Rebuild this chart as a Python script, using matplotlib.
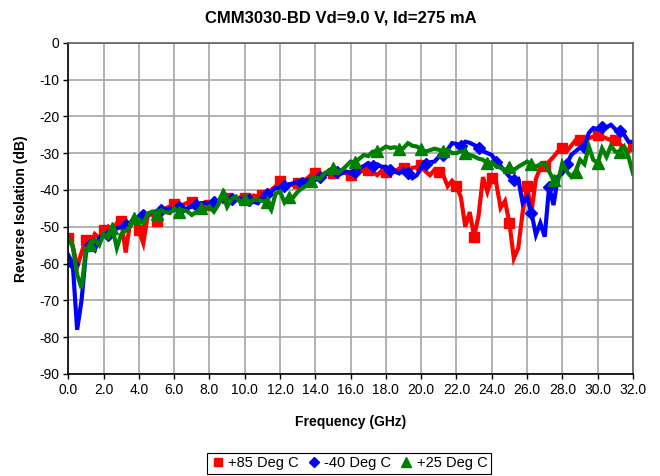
import numpy as np
import matplotlib
matplotlib.use("Agg")
import matplotlib.pyplot as plt
from matplotlib.lines import Line2D
from matplotlib.ticker import FormatStrFormatter

plt.rcParams["font.family"] = ["Liberation Sans", "DejaVu Sans"]
plt.rcParams["axes.unicode_minus"] = False

# sweep 0..32 GHz, 0.25 GHz steps
freq = np.linspace(0.0, 32.0, 129)

# +85 Deg C
s21_p85 = [
    -53, -55, -61, -57,
    -53.5, -55, -52, -53,
    -51, -50, -51.5, -49,
    -48.5, -57, -49, -47.5,
    -51, -54.5, -47, -46.5,
    -48.5, -46, -45, -44.5,
    -43.8, -45, -44, -43.5,
    -43.2, -44, -44.5, -43.8,
    -44.1, -43.5, -43, -42.5,
    -42.3, -43, -42.5, -42,
    -42.3, -42, -41.5, -41.8,
    -41.4, -41, -40, -39,
    -37.7, -39, -38.5, -38.7,
    -38.2, -37.5, -37, -36,
    -35.5, -36.5, -36, -35.3,
    -35.5, -35.8, -35, -35.5,
    -36, -35, -34.5, -35,
    -34.6, -35, -36, -34.8,
    -35, -34.5, -35, -34.2,
    -34, -35.5, -34, -33.8,
    -33.2, -35, -36, -34.5,
    -35, -36, -39, -37.5,
    -39, -42, -50, -46,
    -52.7, -47, -36.5, -40.5,
    -36.8, -38, -44.9, -43,
    -49, -58.6, -55.8, -46,
    -39, -46, -37, -34,
    -33.5, -32.3, -31, -29.5,
    -28.5, -29.5, -28, -26.5,
    -26.5, -27, -26, -25.5,
    -25, -25.5, -26, -26.5,
    -26.5, -27.5, -28.5, -29.5,
    -28,
]

# -40 Deg C
s21_m40 = [
    -57.7, -60, -78, -70,
    -57, -55, -56.3, -53,
    -52.5, -52.2, -51, -50.5,
    -50, -49.5, -49, -48,
    -47.5, -46.8, -46.5, -46,
    -45.8, -45.5, -45.5, -45,
    -45.5, -44.5, -45.9, -45,
    -44.5, -44, -43.6, -43.5,
    -43.8, -43.2, -43.2, -42.8,
    -43, -42.5, -42.7, -42.3,
    -42.5, -42.8, -43.2, -43.6,
    -42, -41, -40.5, -39.5,
    -39.5, -39, -38.5, -38.2,
    -37.7, -38, -37.5, -37,
    -37.3, -36.5, -36, -35.5,
    -34.6, -35, -35.5, -35,
    -35.5, -35, -34, -33.5,
    -32.7, -33.5, -33, -33.7,
    -33.7, -34.5, -35, -35.5,
    -34.5, -35.5, -36.8, -36,
    -34, -33, -32.5, -32.3,
    -31, -30.5, -29, -27.3,
    -27.5, -28, -26.9, -27.2,
    -27.8, -28.5, -29.5, -30,
    -30.5, -32.4, -33.5, -35,
    -36.4, -37.3, -37, -43.6,
    -42, -46.3, -52.2, -49,
    -52.7, -39.1, -44.1, -36.4,
    -35.5, -33, -30.5, -29.5,
    -28.5, -28.2, -24.5, -23.2,
    -23.5, -22.8, -23, -22.3,
    -23.5, -24, -25, -26.9,
    -27,
]

# +25 Deg C
s21_p25 = [
    -53, -55.5, -63, -66.7,
    -56, -55, -53.6, -55,
    -52, -53, -50.4, -55.8,
    -52, -51, -50, -47.7,
    -48, -49, -46.5, -45.9,
    -46.5, -45.5, -46, -46.3,
    -45, -46, -45.5, -45.8,
    -46.8, -46, -45, -45.5,
    -44.5, -45.9, -44, -41,
    -44.6, -42.5, -41.8, -43.4,
    -42.5, -43.4, -42.7, -42.7,
    -43, -43.4, -45.4, -41,
    -40.4, -43.4, -41.8, -42,
    -40.5, -39.5, -38.8, -37.7,
    -36.6, -37, -35.5, -34.8,
    -34.1, -35, -34.6, -33.5,
    -32.3, -32.5, -31.5, -30.5,
    -30.8, -29.6, -29.5, -29,
    -28.2, -28.6, -28.4, -28.8,
    -28.6, -27.3, -28, -28.2,
    -29, -29.6, -29.2, -28.8,
    -29.1, -29.5, -29.1, -30,
    -30, -29.5, -30, -30.5,
    -30.9, -31.5, -31.8, -32.7,
    -32.5, -33.5, -34, -34.6,
    -33.7, -34.6, -33.7, -33,
    -32.3, -33, -33.7, -33,
    -32.7, -35, -37.3, -37.7,
    -32.7, -35, -36.4, -35,
    -31.8, -33, -28.2, -31.8,
    -32.7, -28.7, -31, -28,
    -29.6, -29.6, -28.2, -31,
    -35.5,
]

labels = ["+85 Deg C", "-40 Deg C", "+25 Deg C"]
colors = ["#ff0000", "#0000ff", "#008000"]
markers = ["s", "D", "^"]
msizes = [7.5, 6.5, 8.5]
mevery = [(0, 4), (1, 4), (5, 5)]

fig = plt.figure(figsize=(6.6, 4.76), dpi=100)
ax = fig.add_axes([0.1035, 0.2143, 0.8555, 0.696])

for y, c, m, ms, me in zip([s21_p85, s21_m40, s21_p25], colors, markers, msizes, mevery):
    ax.plot(freq, y, color=c, lw=3.0, marker=m, ms=ms, markevery=me,
            mec=c, mfc=c, solid_joinstyle="miter", clip_on=True)

ax.set_xlim(0, 32)
ax.set_ylim(-90, 0)
ax.set_xticks(np.arange(0, 33, 2))
ax.set_yticks(np.arange(-90, 1, 10))
ax.xaxis.set_major_formatter(FormatStrFormatter("%.1f"))
ax.grid(True, color="#a6a6a6", lw=1.2)
ax.set_axisbelow(True)
ax.tick_params(labelsize=10, direction="out", length=3.5, width=1, pad=3)

ax.spines["left"].set_color("black")
ax.spines["bottom"].set_color("black")
ax.spines["top"].set_color("#606060")
ax.spines["right"].set_color("#606060")
for s in ax.spines.values():
    s.set_linewidth(1.2)

ax.set_xlabel("Frequency (GHz)", fontsize=10, fontweight="bold", labelpad=13)
ax.set_ylabel("Reverse Isolation (dB)", fontsize=10, fontweight="bold", labelpad=8)
fig.text(0.517, 0.962, "CMM3030-BD Vd=9.0 V, Id=275 mA", ha="center", va="center",
         fontsize=12, fontweight="bold")

handles = [Line2D([], [], color=c, marker=m, ls="none", ms=ms * 0.8)
           for c, m, ms in zip(colors, markers, msizes)]
leg = fig.legend(handles, labels, loc="center", bbox_to_anchor=(0.529, 0.027), ncol=3,
                 fontsize=10.5, frameon=True, fancybox=False, edgecolor="black",
                 framealpha=1, handlelength=0.9, handletextpad=0.25, columnspacing=0.6,
                 borderpad=0.25, borderaxespad=0)
leg.get_frame().set_linewidth(0.8)

fig.savefig("out.png", dpi=100)
